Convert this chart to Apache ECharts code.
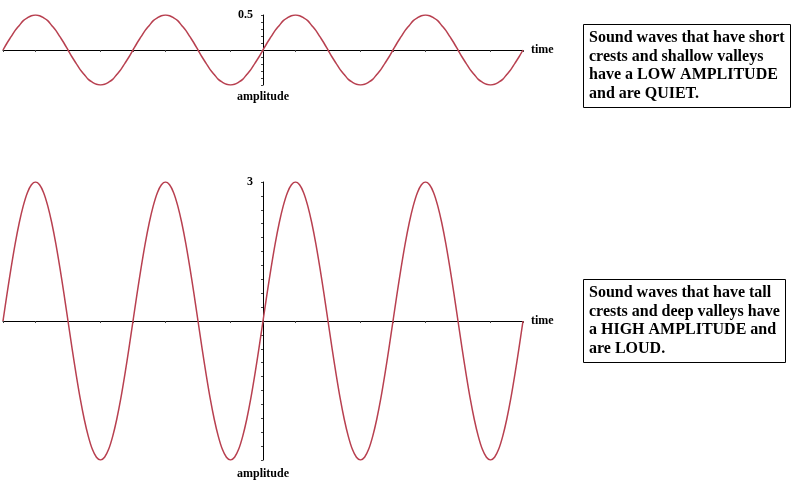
<!DOCTYPE html>
<html>
<head>
<meta charset="utf-8">
<script src="https://cdn.jsdelivr.net/npm/echarts@6/dist/echarts.min.js"></script>
<style>
html,body{margin:0;padding:0;background:#fff;}
#chart{width:792px;height:486px;}
</style>
</head>
<body>
<div id="chart"></div>
<script>
// time axis samples (quarter-period units)
var time = [-8,-7.875,-7.75,-7.625,-7.5,-7.375,-7.25,-7.125,-7,-6.875,-6.75,-6.625,-6.5,-6.375,-6.25,-6.125,
  -6,-5.875,-5.75,-5.625,-5.5,-5.375,-5.25,-5.125,-5,-4.875,-4.75,-4.625,-4.5,-4.375,-4.25,-4.125,
  -4,-3.875,-3.75,-3.625,-3.5,-3.375,-3.25,-3.125,-3,-2.875,-2.75,-2.625,-2.5,-2.375,-2.25,-2.125,
  -2,-1.875,-1.75,-1.625,-1.5,-1.375,-1.25,-1.125,-1,-0.875,-0.75,-0.625,-0.5,-0.375,-0.25,-0.125,
  0,0.125,0.25,0.375,0.5,0.625,0.75,0.875,1,1.125,1.25,1.375,1.5,1.625,1.75,1.875,
  2,2.125,2.25,2.375,2.5,2.625,2.75,2.875,3,3.125,3.25,3.375,3.5,3.625,3.75,3.875,
  4,4.125,4.25,4.375,4.5,4.625,4.75,4.875,5,5.125,5.25,5.375,5.5,5.625,5.75,5.875,
  6,6.125,6.25,6.375,6.5,6.625,6.75,6.875,7,7.125,7.25,7.375,7.5,7.625,7.75,7.875,8];
// low-amplitude (quiet) wave
var quietWave = [
  0,0.10,0.19,0.28,0.35,0.42,0.46,0.49,0.5,0.49,0.46,0.42,0.35,0.28,0.19,0.10,0,-0.10,-0.19,-0.28,-0.35,-0.42,-0.46,-0.49,-0.5,-0.49,-0.46,-0.42,-0.35,-0.28,-0.19,-0.10,
  0,0.10,0.19,0.28,0.35,0.42,0.46,0.49,0.5,0.49,0.46,0.42,0.35,0.28,0.19,0.10,0,-0.10,-0.19,-0.28,-0.35,-0.42,-0.46,-0.49,-0.5,-0.49,-0.46,-0.42,-0.35,-0.28,-0.19,-0.10,
  0,0.10,0.19,0.28,0.35,0.42,0.46,0.49,0.5,0.49,0.46,0.42,0.35,0.28,0.19,0.10,0,-0.10,-0.19,-0.28,-0.35,-0.42,-0.46,-0.49,-0.5,-0.49,-0.46,-0.42,-0.35,-0.28,-0.19,-0.10,
  0,0.10,0.19,0.28,0.35,0.42,0.46,0.49,0.5,0.49,0.46,0.42,0.35,0.28,0.19,0.10,0,-0.10,-0.19,-0.28,-0.35,-0.42,-0.46,-0.49,-0.5,-0.49,-0.46,-0.42,-0.35,-0.28,-0.19,-0.10,
  0];
// high-amplitude (loud) wave
var loudWave = [
  0,0.59,1.15,1.67,2.12,2.49,2.77,2.94,3,2.94,2.77,2.49,2.12,1.67,1.15,0.59,0,-0.59,-1.15,-1.67,-2.12,-2.49,-2.77,-2.94,-3,-2.94,-2.77,-2.49,-2.12,-1.67,-1.15,-0.59,
  0,0.59,1.15,1.67,2.12,2.49,2.77,2.94,3,2.94,2.77,2.49,2.12,1.67,1.15,0.59,0,-0.59,-1.15,-1.67,-2.12,-2.49,-2.77,-2.94,-3,-2.94,-2.77,-2.49,-2.12,-1.67,-1.15,-0.59,
  0,0.59,1.15,1.67,2.12,2.49,2.77,2.94,3,2.94,2.77,2.49,2.12,1.67,1.15,0.59,0,-0.59,-1.15,-1.67,-2.12,-2.49,-2.77,-2.94,-3,-2.94,-2.77,-2.49,-2.12,-1.67,-1.15,-0.59,
  0,0.59,1.15,1.67,2.12,2.49,2.77,2.94,3,2.94,2.77,2.49,2.12,1.67,1.15,0.59,0,-0.59,-1.15,-1.67,-2.12,-2.49,-2.77,-2.94,-3,-2.94,-2.77,-2.49,-2.12,-1.67,-1.15,-0.59,
  0];
var quietTick = ['0.5'];
var loudTick = ['3'];
var quietText = 'Sound waves that have short\ncrests and shallow valleys\nhave a LOW AMPLITUDE\nand are QUIET.';
var loudText = 'Sound waves that have tall\ncrests and deep valleys have\na HIGH AMPLITUDE and\nare LOUD.';

var serif = '"Liberation Serif", "DejaVu Serif", serif';
var lineColor = '#b84050';

function xAx(gi){
  return {
    gridIndex: gi, type: 'value', min: -8, max: 8, interval: 1,
    name: 'time', nameLocation: 'end', nameGap: 8,
    nameTextStyle: {fontFamily: serif, fontWeight: 'bold', fontSize: 12, color: '#000', verticalAlign: 'middle'},
    axisLine: {onZero: true, lineStyle: {color: '#000', width: 1}},
    axisTick: {show: true, length: 2, lineStyle: {color: '#444'}},
    axisLabel: {show: false},
    splitLine: {show: false}
  };
}
function yAx(gi, mn, mx, iv, lbl, gap){
  return {
    gridIndex: gi, type: 'value', min: mn, max: mx, interval: iv,
    position: 'left', offset: -260,
    name: 'amplitude', nameLocation: 'start', nameGap: gap,
    nameTextStyle: {fontFamily: serif, fontWeight: 'bold', fontSize: 12, color: '#000'},
    axisLine: {onZero: false, lineStyle: {color: '#000', width: 1}},
    axisTick: {show: true, length: 2, lineStyle: {color: '#444'}},
    axisLabel: {
      show: true, margin: 10, fontFamily: serif, fontWeight: 'bold', fontSize: 12, color: '#000',
      formatter: function(v){ return Math.abs(v - parseFloat(lbl)) < 1e-6 ? lbl : ''; }
    },
    splitLine: {show: false}
  };
}

var chart = echarts.init(document.getElementById('chart'), null, {renderer: 'canvas'});
chart.setOption({
  backgroundColor: '#fff',
  animation: false,
  title: [
    {text: quietText, left: 583, top: 24, padding: [5, 6, 5, 6], borderColor: '#000', borderWidth: 1,
     textStyle: {fontFamily: serif, fontWeight: 'bold', fontSize: 16, lineHeight: 18.5, color: '#000'}},
    {text: loudText, left: 583, top: 279, padding: [5, 6, 5, 6], borderColor: '#000', borderWidth: 1,
     textStyle: {fontFamily: serif, fontWeight: 'bold', fontSize: 16, lineHeight: 18.5, color: '#000'}}
  ],
  grid: [
    {left: 3, width: 520, top: 15, height: 70, containLabel: false, outerBoundsMode: 'none'},
    {left: 3, width: 520, top: 182, height: 278, containLabel: false, outerBoundsMode: 'none'}
  ],
  xAxis: [xAx(0), xAx(1)],
  yAxis: [yAx(0, -0.5, 0.5, 0.1, quietTick[0], 6), yAx(1, -3, 3, 0.3, loudTick[0], 8)],
  series: [
    {type: 'line', xAxisIndex: 0, yAxisIndex: 0, showSymbol: false, smooth: 0.33,
     lineStyle: {color: lineColor, width: 1.5},
     data: time.map(function(t, i){ return [t, quietWave[i]]; })},
    {type: 'line', xAxisIndex: 1, yAxisIndex: 1, showSymbol: false, smooth: 0.33,
     lineStyle: {color: lineColor, width: 1.5},
     data: time.map(function(t, i){ return [t, loudWave[i]]; })}
  ]
});
</script>
</body>
</html>
